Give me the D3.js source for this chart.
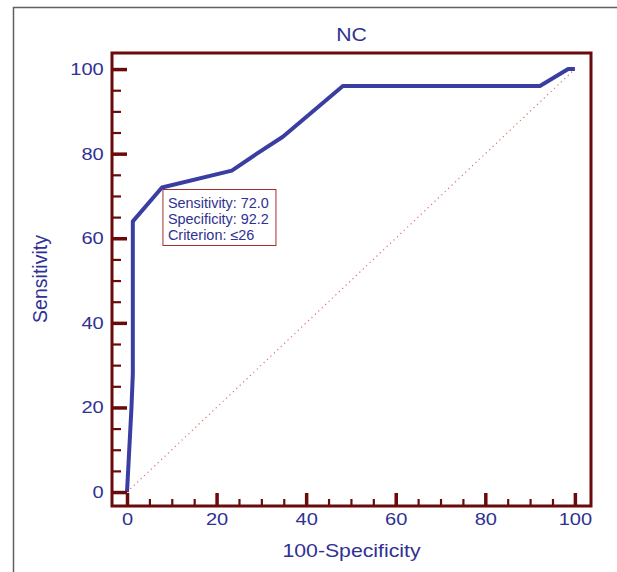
<!DOCTYPE html>
<html>
<head>
<meta charset="utf-8">
<script src="https://cdn.jsdelivr.net/npm/d3@7"></script>
<style>
  body { margin: 0; background: #fff; }
  text { font-family: "Liberation Sans", Arial, sans-serif; }
</style>
</head>
<body>
<div id="chart"></div>
<script>
const width = 617;
const height = 572;

// Data.
const fpr = [0, 0.4, 0.8, 1.0, 1.3, 1.3, 7.8, 23.4, 29, 34.8, 48.2, 92.2, 98.5, 100];
const tpr = [0, 8, 16, 20, 28, 64, 72, 76, 80, 84, 96, 96, 100, 100];
const majorTicks = [0, 20, 40, 60, 80, 100];
const minorTicks = d3.range(0, 101, 5).filter(v => v % 20 !== 0);
const infoLines = ["Sensitivity: 72.0", "Specificity: 92.2", "Criterion: \u226426"];
const infoPoint = [7.8, 72];

const maroon = "#6b0a0a";
const blue = "#2f3193";
// the original picture is a bit wider than tall, so text is stretched sideways
const stretch = "scale(1.18,1)";

const svg = d3.select("#chart")
  .append("svg")
  .attr("width", width)
  .attr("height", height);

// outer gray border (runs off the page)
svg.append("path")
  .attr("d", "M13.5,580 V7.5 H625")
  .attr("fill", "none")
  .attr("stroke", "#606060")
  .attr("stroke-width", 1.5);

const x = d3.scaleLinear().domain([-3.35, 103.6]).range([112, 591]);
const y = d3.scaleLinear().domain([-3.3, 103.8]).range([506, 53]);

// diagonal reference line
svg.append("line")
  .attr("x1", x(0)).attr("y1", y(0))
  .attr("x2", x(100)).attr("y2", y(100))
  .attr("stroke", "#e07070")
  .attr("stroke-width", 1.2)
  .attr("stroke-dasharray", "1.2,3.5");

// ROC curve
const line = d3.line()
  .x(d => x(d[0]))
  .y(d => y(d[1]));

svg.append("path")
  .datum(fpr.map((v, i) => [v, tpr[i]]))
  .attr("d", line)
  .attr("fill", "none")
  .attr("stroke", "#3a3ea2")
  .attr("stroke-width", 4)
  .attr("stroke-linejoin", "round");

// minor ticks
svg.append("g")
  .attr("transform", `translate(${x.range()[0]},0)`)
  .call(d3.axisLeft(y).tickValues(minorTicks).tickSize(-9).tickFormat(""))
  .call(g => g.select(".domain").remove())
  .call(g => g.selectAll("line").attr("stroke", maroon).attr("stroke-width", 2.2));

svg.append("g")
  .attr("transform", `translate(0,${y.range()[0]})`)
  .call(d3.axisBottom(x).tickValues(minorTicks).tickSize(-7).tickFormat(""))
  .call(g => g.select(".domain").remove())
  .call(g => g.selectAll("line").attr("stroke", maroon).attr("stroke-width", 2.2));

// major ticks with labels
svg.append("g")
  .attr("transform", `translate(${x.range()[0]},0)`)
  .call(d3.axisLeft(y).tickValues(majorTicks).tickSize(-15).tickPadding(7))
  .call(g => g.select(".domain").remove())
  .call(g => g.selectAll("line").attr("stroke", maroon).attr("stroke-width", 3.5))
  .call(g => g.selectAll("text")
    .attr("fill", blue)
    .attr("font-size", 17)
    .attr("transform", stretch)
    .attr("font-family", "Liberation Sans, Arial, sans-serif"));

svg.append("g")
  .attr("transform", `translate(0,${y.range()[0]})`)
  .call(d3.axisBottom(x).tickValues(majorTicks).tickSize(-13).tickPadding(7))
  .call(g => g.select(".domain").remove())
  .call(g => g.selectAll("line").attr("stroke", maroon).attr("stroke-width", 3.5))
  .call(g => g.selectAll("text")
    .attr("fill", blue)
    .attr("font-size", 17)
    .attr("transform", stretch)
    .attr("font-family", "Liberation Sans, Arial, sans-serif"));

// frame
svg.append("rect")
  .attr("x", x.range()[0])
  .attr("y", y.range()[1])
  .attr("width", x.range()[1] - x.range()[0])
  .attr("height", y.range()[0] - y.range()[1])
  .attr("fill", "none")
  .attr("stroke", maroon)
  .attr("stroke-width", 3);

// info box
const box = svg.append("g")
  .attr("transform", `translate(${x(infoPoint[0]) + 1},${y(infoPoint[1]) + 2})`);

box.append("rect")
  .attr("width", 113)
  .attr("height", 56)
  .attr("fill", "#fff")
  .attr("stroke", "#a03030")
  .attr("stroke-width", 1);

box.selectAll("text")
  .data(infoLines)
  .join("text")
  .attr("transform", (d, i) => `translate(5,${18.5 + i * 16}) scale(1.03,1)`)
  .attr("fill", blue)
  .attr("font-size", 14)
  .text(d => d);

// titles
svg.append("text")
  .attr("transform", `translate(${(x.range()[0] + x.range()[1]) / 2},41) ${stretch}`)
  .attr("text-anchor", "middle")
  .attr("fill", blue)
  .attr("font-size", 18)
  .text("NC");

svg.append("text")
  .attr("transform", `translate(${(x.range()[0] + x.range()[1]) / 2},557) ${stretch}`)
  .attr("text-anchor", "middle")
  .attr("fill", blue)
  .attr("font-size", 18)
  .text("100-Specificity");

svg.append("text")
  .attr("transform", "translate(47,279) rotate(-90)")
  .attr("text-anchor", "middle")
  .attr("fill", blue)
  .attr("font-size", 19.5)
  .text("Sensitivity");
</script>
</body>
</html>
